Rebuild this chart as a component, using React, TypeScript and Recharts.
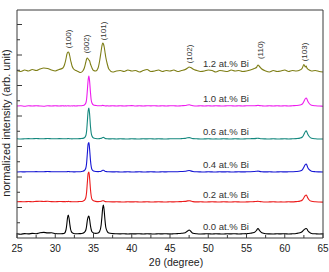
import { LineChart, Line, XAxis, YAxis, ReferenceDot, Label } from "recharts";

// 2θ grid (denser around the reflections)
const twoTheta = [
  25, 25.5, 26, 26.5, 27, 27.5, 28, 28.5, 29, 29.5, 30, 30.5, 31,
  31.2, 31.4, 31.5, 31.6, 31.7, 31.8, 31.9, 32, 32.1, 32.2, 32.4, 32.7, 33, 33.3, 33.6, 33.8,
  34, 34.1, 34.2, 34.3, 34.4, 34.5, 34.6, 34.7, 34.8, 35, 35.3, 35.6, 35.8,
  36, 36.1, 36.2, 36.3, 36.4, 36.5, 36.6, 36.8, 37,
  37.5, 38, 38.5, 39, 39.5, 40, 40.5, 41, 41.5, 42, 42.5, 43, 43.5, 44, 44.5, 45, 45.5, 46, 46.5, 47,
  47.3, 47.5, 47.7, 48,
  48.5, 49, 49.5, 50, 50.5, 51, 51.5, 52, 52.5, 53, 53.5, 54, 54.5, 55, 55.5, 56,
  56.3, 56.5, 56.7, 57,
  57.5, 58, 58.5, 59, 59.5, 60, 60.5, 61, 61.5, 62,
  62.3, 62.5, 62.7, 62.8, 62.9, 63, 63.2, 63.5,
  64, 64.5, 65,
];

// intensities above each trace's own baseline
const bi00 = [
  0.3, -0.2, 0.4, 0.1, 0.6, 0.3, 1.3, 1.6, 1.1, 1.2, 0.5, 0.2, 0.4,
  0.8, 4, 9, 16, 19, 16, 10, 5, 2.5, 1.3, 0.5, 0.2, 0.3, 0.4, 0.8, 1.6,
  4, 8, 14, 17, 18, 14, 8.5, 4.5, 2.2, 1, 0.6, 1, 2.5,
  9, 17, 26, 29, 23, 14, 7, 2.5, 1,
  0.4, 0.2, 0.1, 0.3, 0, 0.2, 0.1, 0.3, 0, 0.2, 0.1, 0, 0.2, 0.1, 0.3, 0, 0.2, 0.4, 0.7, 1.3,
  3, 4, 2.8, 0.8,
  0.2, 0, 0.1, 0.3, 0, 0.2, 0.1, 0, 0.2, 0.1, 0.3, 0, 0.2, 0.4, 0.8, 1.5,
  3.5, 5.5, 3.5, 1.2,
  0.3, 0.1, 0, 0.2, 0.1, 0.3, 0, 0.2, 0.5, 1.2,
  2.5, 4.2, 5.3, 5.5, 5, 3.5, 1.8, 0.5,
  0.2, 0, 0.1,
];
const bi02 = [
  0.2, 0.4, 0.2, 0.5, 0.3, 0.6, 0.8, 0.5, 0.7, 0.4, 0.3, 0.5, 0.4,
  0.4, 0.3, 0.5, 0.4, 0.6, 0.5, 0.3, 0.4, 0.3, 0.2, 0.3, 0.2, 0.4, 0.5, 0.8, 1.6,
  4.5, 10, 20, 28.5, 30, 23, 13, 6, 2.8, 1.2, 0.6, 0.4, 0.5,
  0.7, 1, 1.3, 1.3, 1, 0.6, 0.4, 0.3, 0.2,
  0.1, 0.2, 0.1, 0, 0.2, 0.1, 0.2, 0, 0.1, 0.2, 0, 0.1, 0.2, 0.1, 0, 0.2, 0.1, 0.3, 0.4, 0.6,
  1.1, 1.3, 1, 0.4,
  0.1, 0.2, 0, 0.1, 0.2, 0.1, 0, 0.2, 0.1, 0, 0.2, 0.1, 0, 0.1, 0.2, 0.4,
  0.5, 0.7, 0.5, 0.2,
  0, 0.1, 0.2, 0, 0.1, 0, 0.2, 0.1, 0.4, 0.9,
  2, 4.2, 6.6, 7, 6, 4.2, 2, 0.7,
  0.2, 0, -0.1,
];
const bi04 = [
  0, 0.2, 0.1, 0.3, 0.2, 0.4, 0.2, 0.3, 0.5, 0.3, 0.2, 0.3, 0.2,
  0.3, 0.2, 0.3, 0.4, 0.5, 0.4, 0.3, 0.2, 0.3, 0.2, 0.1, 0.2, 0.3, 0.3, 0.7, 1.5,
  4, 9, 19, 28, 29.5, 22, 12, 5.5, 2.5, 1, 0.5, 0.4, 0.5,
  0.8, 1.2, 1.7, 1.8, 1.4, 0.8, 0.5, 0.3, 0.2,
  0.1, 0.2, 0, 0.1, 0.2, 0, 0.1, 0.2, 0, 0.1, 0.2, 0.1, 0, 0.2, 0.1, 0.3, 0.2, 0.3, 0.5, 0.7,
  1.3, 1.5, 1.1, 0.5,
  0.2, 0.1, 0, 0.2, 0.1, 0, 0.2, 0.1, 0.2, 0, 0.1, 0.2, 0.1, 0.2, 0.3, 0.5,
  0.7, 0.9, 0.6, 0.3,
  0.1, 0.2, 0, 0.1, 0.2, 0.1, 0.2, 0.3, 0.5, 1,
  2.2, 4.8, 7.6, 8, 6.8, 4.6, 2.3, 0.8,
  0.3, 0.1, 0,
];
const bi06 = [
  0.3, 0, 0.2, 0.4, 0.2, 0.5, 0.3, 0.2, 0.5, 0.3, 0.2, 0.4, 0.3,
  0.2, 0.3, 0.2, 0.4, 0.5, 0.4, 0.2, 0.3, 0.2, 0.1, 0.3, 0.2, 0.3, 0.4, 0.6, 1.2,
  3.5, 8, 18, 28, 31, 24, 13, 6, 3, 1, 0.5, 0.3, 0.4,
  0.6, 1, 1.5, 1.6, 1.2, 0.7, 0.4, 0.2, 0.1,
  0.2, 0, 0.2, 0.1, 0, 0.2, 0.1, 0, 0.2, 0.1, 0.3, 0, 0.2, 0.1, 0, 0.2, 0.3, 0.2, 0.4, 0.6,
  1.2, 1.4, 1, 0.4,
  0.2, 0, 0.1, 0.2, 0, 0.1, 0, 0.2, 0.1, 0, 0.2, 0.1, 0, 0.2, 0.3, 0.4,
  0.6, 0.8, 0.5, 0.2,
  0.1, 0, 0.2, 0, 0.1, 0.2, 0, 0.2, 0.4, 0.9,
  2, 4.5, 7.5, 8.2, 7, 5, 2.5, 0.8,
  0.2, 0, 0,
];
const bi10 = [
  0, 0.3, -0.2, 0.2, 0, 0.3, 0, -0.2, 0.3, 0, 0.2, 0, 0.3,
  0, 0.2, 0, 0.3, 0.2, 0, 0.2, 0, 0.3, 0, 0.2, 0, 0.3, 0.2, 0.5, 1,
  3, 7, 16, 26, 30, 24, 14, 6, 3, 1, 0.5, 0.2, 0.3,
  0.2, 0.4, 0.6, 0.5, 0.3, 0.2, 0, 0.2, 0,
  0.2, 0, 0.3, 0, 0.2, 0.4, 0, 0.2, 0, 0.3, 0.1, 0.3, 0, 0.2, 0, 0.3, 0.2, 0, 0.3, 0.5,
  1, 1.2, 0.8, 0.3,
  0, 0.2, 0, 0.3, 0, 0.2, 0.1, 0, 0.3, 0.2, 0, 0.2, 0, 0.3, 0.2, 0.3,
  0.4, 0.6, 0.4, 0.2,
  0, 0.2, 0, 0.3, 0, 0.2, 0, 0.3, 0.5, 1,
  2, 4.5, 7.5, 8, 7, 5, 2.5, 0.8,
  0.2, 0, -0.2,
];
const bi12 = [
  0.5, -0.5, 1, 0, 1.5, 0.5, 2, 3, 2.5, 1, 0, 1.5, 3,
  6, 12, 16, 18.5, 19, 18, 15, 11, 8, 5, 2, 0.5, -0.5, -1.5, 0, 3,
  9, 12, 13, 12, 11, 10, 7, 5, 3, 0.5, 0, 3, 10,
  20, 25, 28, 27, 24, 19, 14, 7, 2,
  -1, 0, 0.5, -0.5, 1, 0, 0.5, -1, 0.5, 1.5, -0.5, 0, 1, -0.5, 0.5, 0, 1, -0.5, 0.5, 1.5,
  3, 4, 3.5, 2,
  0.5, -0.5, 0, 1, 0.5, -1, 0.5, 0, -0.5, 1, 0, 0.5, -0.5, 0, 1, 2.5,
  3.5, 6, 4.5, 2,
  0, -1, 0.5, -0.5, 0, 1, -0.5, 0.5, 0, 1,
  3, 6.5, 4, 5, 3, 2, 1, 0,
  0.5, -0.5, -1,
];

const seriesNames = ["0.0 at.% Bi", "0.2 at.% Bi", "0.4 at.% Bi", "0.6 at.% Bi", "1.0 at.% Bi", "1.2 at.% Bi"];
const seriesColors = ["#000000", "#ec1c1c", "#1616d4", "#14887e", "#ee1cee", "#7e7e16"];
const seriesOffsets = [4, 36, 66, 99, 132, 167];
const allSeries = [bi00, bi02, bi04, bi06, bi10, bi12];

const peakNames = ["(100)", "(002)", "(101)", "(102)", "(110)", "(103)"];
const peakAngles = [31.7, 34.15, 36.25, 47.6, 56.8, 62.6];
const peakLabelLevels = [199, 194, 207, 184, 188, 186];

const xTicks = [25, 27.5, 30, 32.5, 35, 37.5, 40, 42.5, 45, 47.5, 50, 52.5, 55, 57.5, 60, 62.5, 65];
const yTicks = [15.25, 30.5, 45.75, 61, 76.25, 91.5, 106.75, 122, 137.25, 152.5, 167.75, 183, 198.25, 213.5];

const FONT = "'Liberation Sans', Arial, sans-serif";
const AXIS = "#3a3a3a";

const rows = twoTheta.map((t, i) => {
  const row: Record<string, number> = { t };
  allSeries.forEach((s, k) => {
    row["s" + k] = seriesOffsets[k] + s[i];
  });
  return row;
});

function XTick({ x, y, payload }: any) {
  const major = payload.value % 5 === 0;
  return (
    <g>
      <line x1={x} x2={x} y1={y} y2={y - (major ? 5 : 3)} stroke={AXIS} />
      {major && (
        <text x={x} y={y + 14} textAnchor="middle" fontSize={10} fontFamily={FONT} fill="#222">
          {payload.value}
        </text>
      )}
    </g>
  );
}

function YTick({ x, y, payload }: any) {
  const major = Math.round(payload.value / 15.25) % 2 === 0;
  return <line x1={x} x2={x + (major ? 5 : 3)} y1={y} y2={y} stroke={AXIS} />;
}

export default function App() {
  return (
    <div style={{ position: "absolute", left: 0, top: 0, width: 329, height: 272, background: "#fff" }}>
      <LineChart width={329} height={272} data={rows} margin={{ top: 0, right: 0, bottom: 0, left: 0 }}>
        <XAxis
          dataKey="t"
          type="number"
          domain={[25, 65]}
          ticks={xTicks}
          interval={0}
          tick={<XTick />}
          tickLine={false}
          tickSize={0}
          tickMargin={0}
          height={34}
          axisLine={{ stroke: AXIS }}
        >
          <Label
            content={(p: any) => (
              <text
                x={p.viewBox.x + p.viewBox.width / 2 + 6}
                y={p.viewBox.y + 28}
                textAnchor="middle"
                fontSize={10.5}
                fontFamily={FONT}
                fill="#222"
              >
                2θ (degree)
              </text>
            )}
          />
        </XAxis>
        <XAxis xAxisId="top" orientation="top" type="number" domain={[25, 65]} height={10} tick={false} tickLine={false} axisLine={{ stroke: AXIS }} />
        <YAxis
          type="number"
          domain={[0, 228]}
          ticks={yTicks}
          interval={0}
          tick={<YTick />}
          tickLine={false}
          tickSize={0}
          tickMargin={0}
          width={17}
          axisLine={{ stroke: AXIS }}
        >
          <Label
            content={(p: any) => {
              const cy = p.viewBox.y + p.viewBox.height / 2 - 1;
              return (
                <text
                  x={6}
                  y={cy}
                  transform={`rotate(-90 6 ${cy})`}
                  textAnchor="middle"
                  dominantBaseline="central"
                  fontSize={11}
                  fontFamily={FONT}
                  fill="#222"
                >
                  normalized intensity (arb. unit)
                </text>
              );
            }}
          />
        </YAxis>
        <YAxis yAxisId="right" orientation="right" type="number" domain={[0, 228]} width={6} tick={false} tickLine={false} axisLine={{ stroke: AXIS }} />

        {allSeries.map((_, k) => (
          <Line
            key={k}
            dataKey={"s" + k}
            type="monotone"
            stroke={seriesColors[k]}
            strokeWidth={1.1}
            dot={false}
            isAnimationActive={false}
          />
        ))}

        {seriesNames.map((name, k) => (
          <ReferenceDot
            key={name}
            x={49.3}
            y={seriesOffsets[k] + 8}
            r={0}
            fill="none"
            stroke="none"
            label={(p: any) => (
              <text x={p.viewBox.x} y={p.viewBox.y} dominantBaseline="central" fontSize={9.5} fontFamily={FONT} fill="#333">
                {name}
              </text>
            )}
          />
        ))}

        {peakNames.map((name, k) => (
          <ReferenceDot
            key={name}
            x={peakAngles[k]}
            y={peakLabelLevels[k]}
            r={0}
            fill="none"
            stroke="none"
            label={(p: any) => (
              <text
                x={p.viewBox.x}
                y={p.viewBox.y}
                transform={`rotate(-90 ${p.viewBox.x} ${p.viewBox.y})`}
                textAnchor="middle"
                dominantBaseline="central"
                fontSize={8}
                fontFamily={FONT}
                fill="#333"
              >
                {name}
              </text>
            )}
          />
        ))}
      </LineChart>
    </div>
  );
}
